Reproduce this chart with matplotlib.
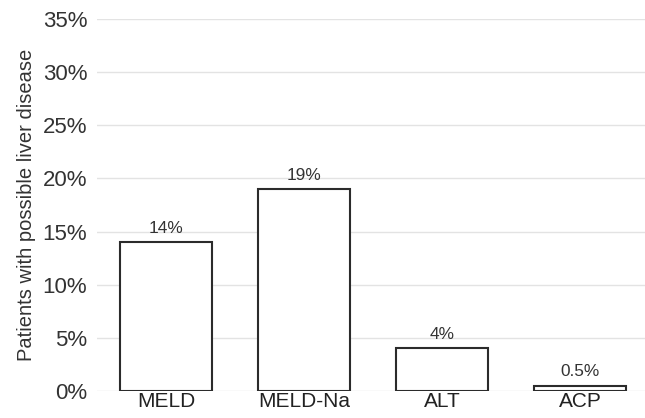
import matplotlib.pyplot as plt

categories = ['MELD', 'MELD-Na', 'ALT', 'ACP']
values = [14, 19, 4, 0.5]
value_labels = ['14%', '19%', '4%', '0.5%']
y_ticks = [0, 5, 10, 15, 20, 25, 30, 35]

plt.rcParams['font.family'] = ['Liberation Sans', 'DejaVu Sans']

fig = plt.figure(figsize=(6.45, 4.18), dpi=100)
ax = fig.add_axes([0.1504, 0.0646, 0.8496, 0.8900])

# lineas de la rejilla
for t in y_ticks:
    ax.axhline(t, color='#e3e3e3', linewidth=1.0, zorder=0)

x = list(range(len(categories)))
ax.bar(x, values, width=0.667, color='white', edgecolor='#2b2b2b', linewidth=1.5, zorder=2)

for xi, v, lab in zip(x, values, value_labels):
    ax.annotate(lab, (xi, v), xytext=(0, 4.5), textcoords='offset points',
                ha='center', va='bottom', fontsize=12.4, color='#333333')

ax.set_xlim(-0.5, 3.47)
ax.set_ylim(0, 35)
ax.set_yticks(y_ticks)
ax.set_yticklabels([f'{t}%' for t in y_ticks], fontsize=16, color='#333333')
ax.set_xticks(x)
ax.set_xticklabels(categories, fontsize=15, color='#222222')
ax.tick_params(axis='both', length=0)
ax.tick_params(axis='x', pad=1)
ax.tick_params(axis='y', pad=7)
for s in ax.spines.values():
    s.set_visible(False)

ax.set_ylabel('Patients with possible liver disease', fontsize=14.5, color='#333333', labelpad=4.5)

fig.savefig('out.png', dpi=100)
